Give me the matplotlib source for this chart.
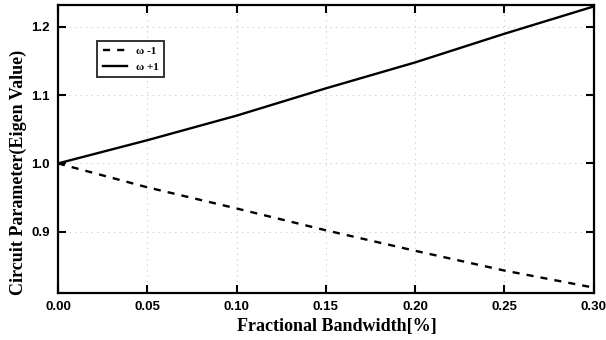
import numpy as np
import matplotlib.pyplot as plt

# Fractional bandwidth and eigen values
bandwidth = [0.00, 0.05, 0.10, 0.15, 0.20, 0.25, 0.30]
omega_minus = [1.000, 0.965, 0.934, 0.902, 0.872, 0.843, 0.818]
omega_plus = [1.000, 1.034, 1.070, 1.110, 1.148, 1.190, 1.230]

xticks = [0.00, 0.05, 0.10, 0.15, 0.20, 0.25, 0.30]
yticks = [0.9, 1.0, 1.1, 1.2]

fig = plt.figure(figsize=(6.06, 3.40), dpi=100)
ax = fig.add_axes([0.0957, 0.138, 0.884, 0.847])

ax.plot(bandwidth, omega_minus, color='black', lw=1.7, linestyle=(0, (3, 3)), label='ω -1')
ax.plot(bandwidth, omega_plus, color='black', lw=1.7, label='ω +1')

ax.set_xlim(0.0, 0.30)
ax.set_ylim(0.81, 1.232)
ax.set_xticks(xticks)
ax.set_yticks(yticks)
ax.set_xticklabels(['%.2f' % t for t in xticks], fontfamily='Liberation Sans', fontweight='bold', fontsize=9.5)
ax.set_yticklabels(['%.1f' % t for t in yticks], fontfamily='Liberation Sans', fontweight='bold', fontsize=9.5)
ax.tick_params(direction='in', length=6, width=1.5, top=True, right=True, pad=6)
ax.grid(True, color='#c8c8c8', linestyle=(0, (1, 4)), linewidth=0.8)

for s in ax.spines.values():
    s.set_linewidth(1.6)

ax.set_xlabel('Fractional Bandwidth[%]', fontfamily='Liberation Serif', fontweight='bold', fontsize=13)
ax.set_ylabel('Circuit Parameter(Eigen Value)', fontfamily='Liberation Serif', fontweight='bold', fontsize=13)
ax.xaxis.set_label_coords(0.52, -0.085)
ax.yaxis.set_label_coords(-0.058, 0.42)

leg = ax.legend(loc='upper left', bbox_to_anchor=(0.063, 0.895), fancybox=False, edgecolor='black',
                prop={'family': 'Liberation Serif', 'weight': 'bold', 'size': 8},
                handlelength=2.2, borderpad=0.5, labelspacing=0.5)
leg.get_frame().set_linewidth(1.4)

plt.savefig('out.png', dpi=100)
